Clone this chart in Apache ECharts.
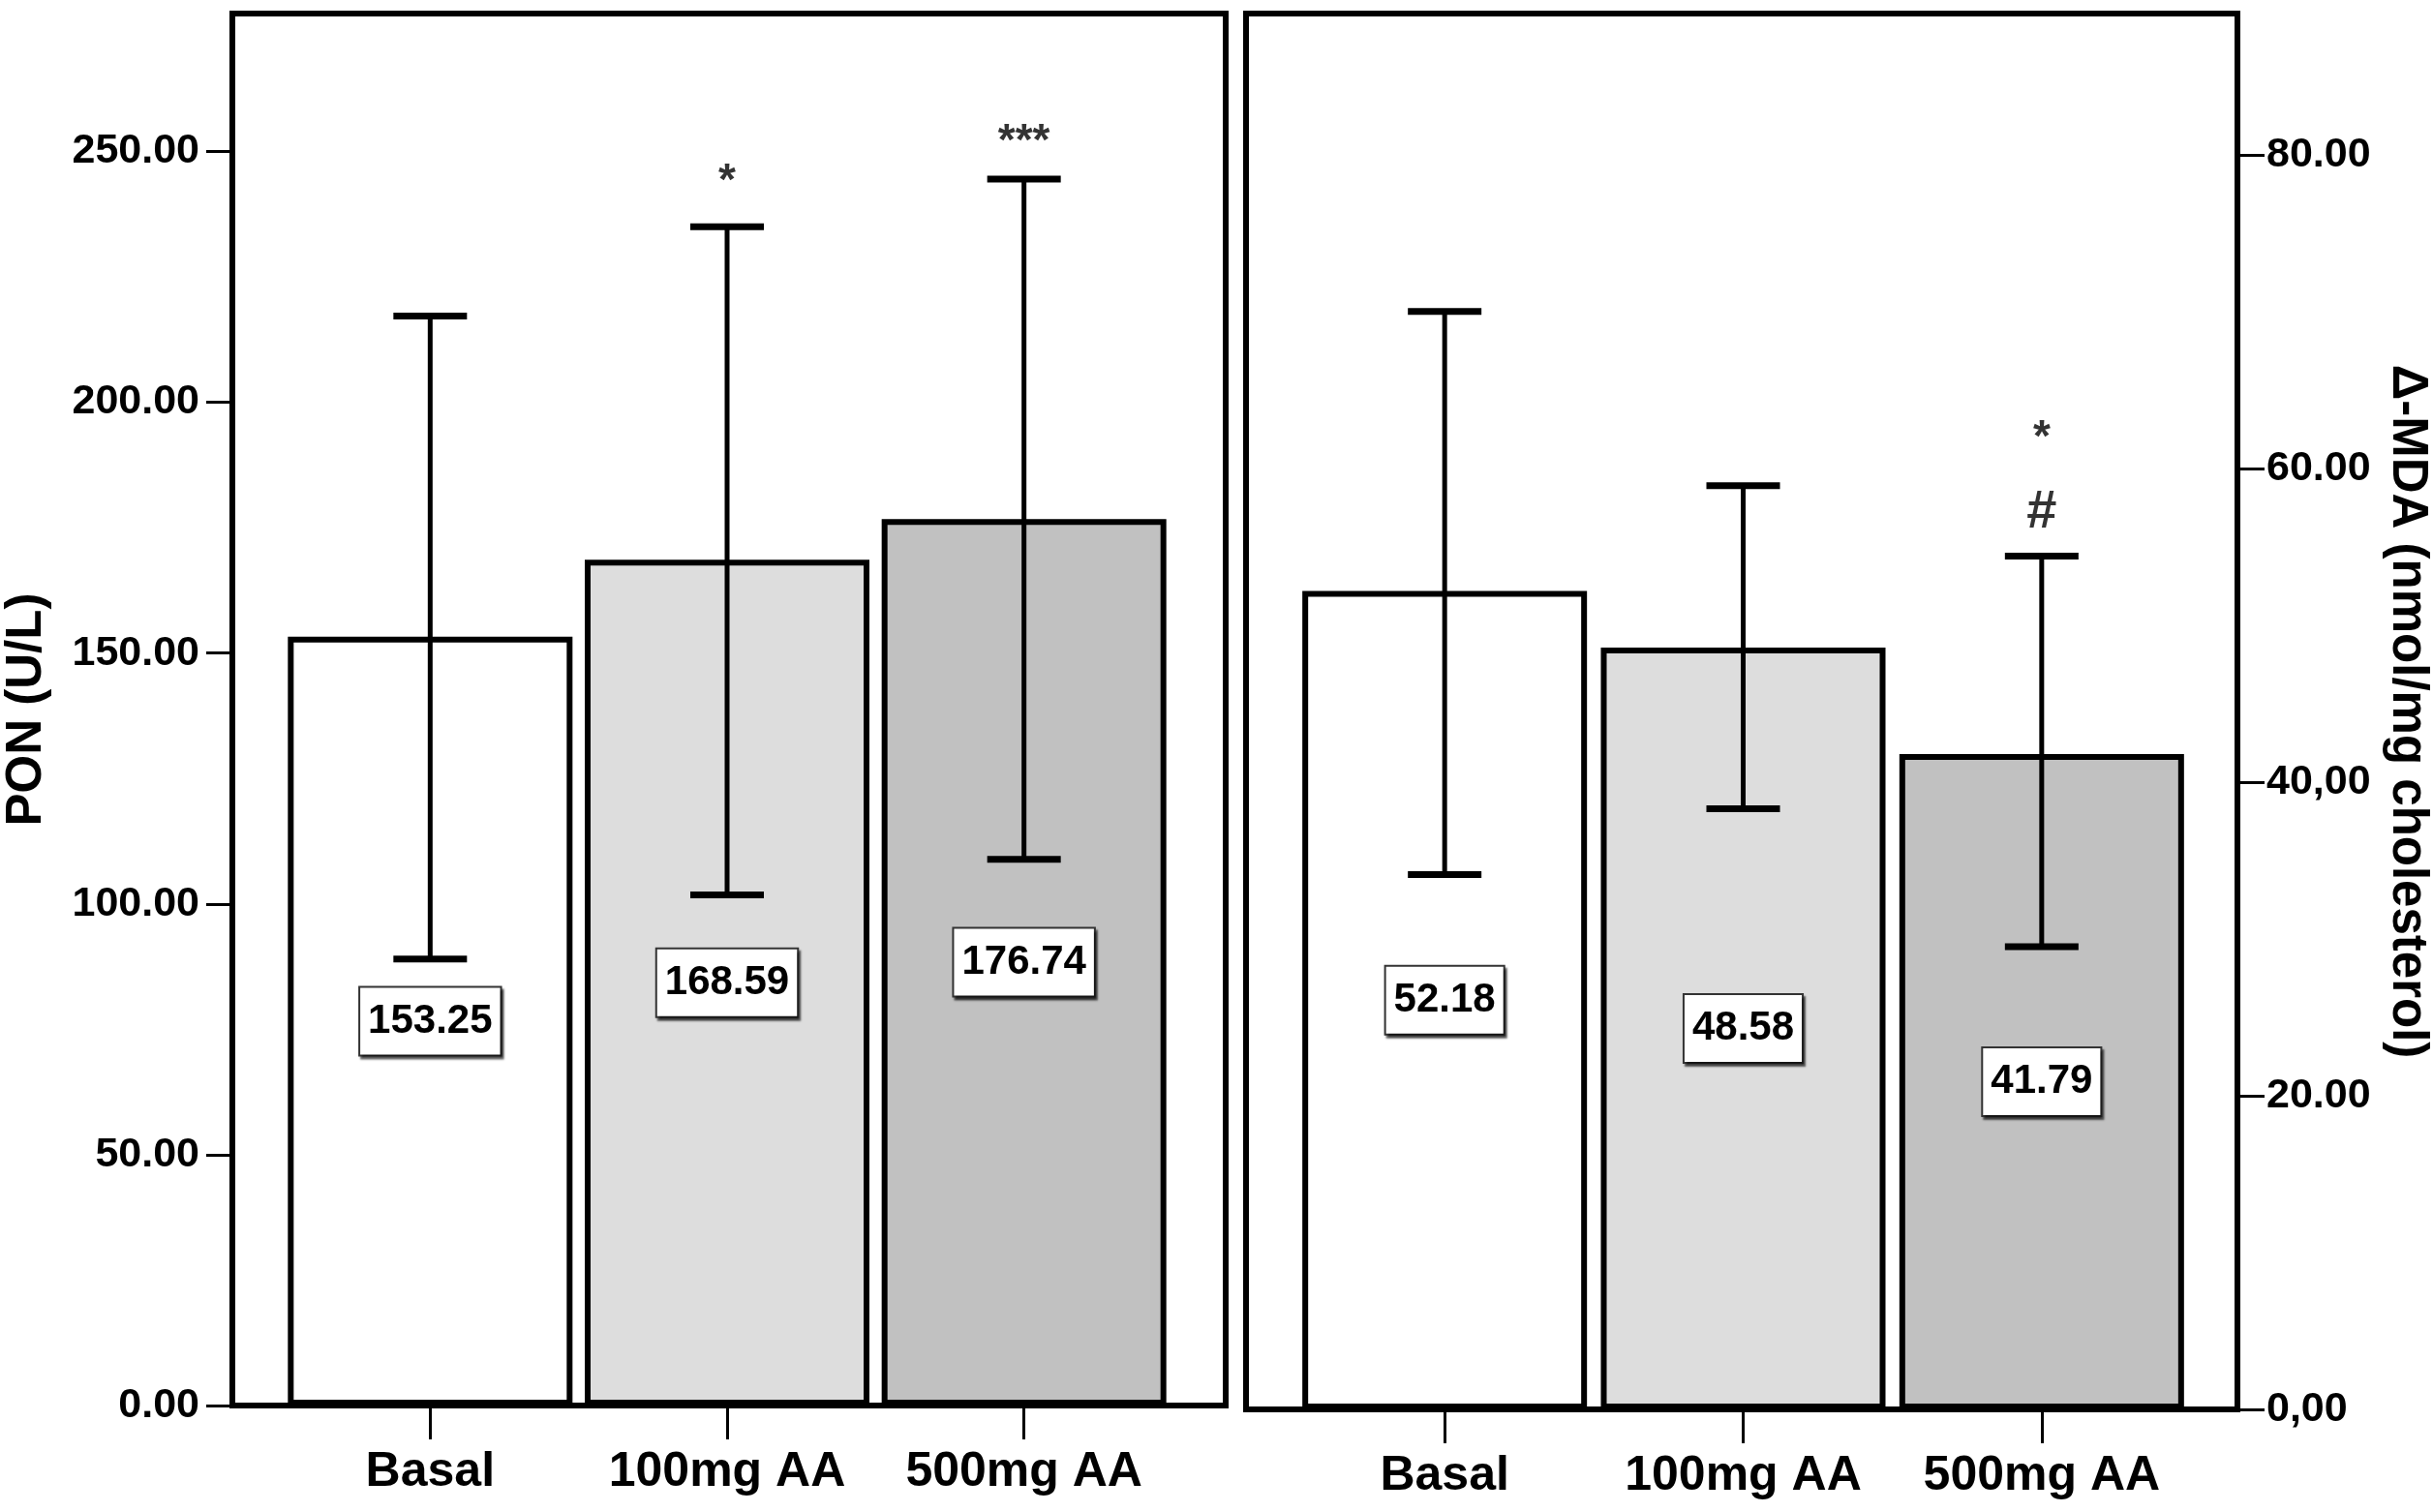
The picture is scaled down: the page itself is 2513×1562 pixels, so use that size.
<!DOCTYPE html>
<html>
<head>
<meta charset="utf-8">
<script src="https://cdn.jsdelivr.net/npm/echarts@6/dist/echarts.min.js"></script>
<style>
html,body{margin:0;padding:0;background:#fff;}
#chart{width:2513px;height:1562px;}
</style>
</head>
<body>
<div id="chart"></div>
<script>
// ---- data ----
const categories = ['Basal', '100mg AA', '500mg AA'];

const ponMean  = [153.25, 168.59, 176.74];
const ponUpper = [217.2, 235.0, 244.5];
const ponLower = [89.0, 101.8, 108.9];
const ponMarkText  = ['*', '***'];
const ponMarkCat   = [1, 2];
const ponMarkValue = [243.9, 251.8];
const ponTicks = [0, 50, 100, 150, 200, 250];
const ponTickLabels = ['0.00', '50.00', '100.00', '150.00', '200.00', '250.00'];

const mdaMean  = [52.18, 48.58, 41.79];
const mdaUpper = [70.0, 58.9, 54.4];
const mdaLower = [34.1, 38.3, 29.5];
const mdaMarkText  = ['*', '#'];
const mdaMarkCat   = [2, 2];
const mdaMarkValue = [61.9, 57.2];
const mdaTicks = [0, 20, 40, 60, 80];
const mdaTickLabels = ['0,00', '20.00', '40,00', '60.00', '80.00'];

// ---- styles ----
const SANS = "'Liberation Sans',Arial,sans-serif";
const barFill = ['#ffffff', '#dddddd', '#c1c1c1'];

const chart = echarts.init(document.getElementById('chart'), null, {renderer: 'canvas'});

function errorBarSeries(xi, yi, lower, upper) {
  return {
    type: 'custom',
    xAxisIndex: xi, yAxisIndex: yi, z: 5,
    data: lower.map((l, i) => [i, l, upper[i]]),
    renderItem: function (params, api) {
      const x = api.value(0);
      const pLo = api.coord([x, api.value(1)]);
      const pHi = api.coord([x, api.value(2)]);
      const hw = 38;
      const st = {stroke: '#000', lineWidth: 5};
      const cap = {stroke: '#000', lineWidth: 7};
      return {
        type: 'group',
        children: [
          {type: 'line', shape: {x1: pLo[0], y1: pLo[1], x2: pHi[0], y2: pHi[1]}, style: st},
          {type: 'line', shape: {x1: pHi[0] - hw, y1: pHi[1], x2: pHi[0] + hw, y2: pHi[1]}, style: cap},
          {type: 'line', shape: {x1: pLo[0] - hw, y1: pLo[1], x2: pLo[0] + hw, y2: pLo[1]}, style: cap}
        ]
      };
    }
  };
}

function barSeries(xi, yi, values) {
  return {
    type: 'bar',
    xAxisIndex: xi, yAxisIndex: yi, z: 3,
    barWidth: 294,
    data: values.map((v, i) => ({value: v, itemStyle: {color: barFill[i]}})),
    itemStyle: {borderColor: '#000', borderWidth: 6},
    label: {
      show: true, position: 'inside',
      formatter: p => Number(p.value).toFixed(2),
      fontFamily: SANS, fontWeight: 'bold', fontSize: 42, lineHeight: 46, color: '#000',
      backgroundColor: '#fff', borderColor: '#333', borderWidth: 2,
      padding: [12, 8, 11, 8],
      shadowColor: 'rgba(0,0,0,0.6)', shadowOffsetX: 2, shadowOffsetY: 3, shadowBlur: 2
    },
    emphasis: {disabled: true}
  };
}

function markSeries(xi, yi, cats, vals, texts) {
  return {
    type: 'scatter',
    xAxisIndex: xi, yAxisIndex: yi, z: 6,
    symbolSize: 1,
    itemStyle: {color: 'rgba(0,0,0,0)'},
    data: cats.map((c, i) => ({
      value: [c, vals[i]],
      label: {
        show: true, position: 'inside', formatter: texts[i],
        fontFamily: SANS,
        fontWeight: 'bold', fontSize: texts[i] === '#' ? 56 : 46, color: '#000'
      }
    })),
    emphasis: {disabled: true}
  };
}

const catAxis = (gi) => ({
  type: 'category', gridIndex: gi, data: categories,
  axisLine: {show: false, onZero: false},
  axisTick: {show: true, alignWithLabel: true, length: 35, lineStyle: {color: '#000', width: 3}},
  axisLabel: {interval: 0, hideOverlap: false, fontFamily: SANS, fontWeight: 'bold', fontSize: 50, color: '#000', margin: 44},
  splitLine: {show: false}
});

const hiddenX = (gi) => ({type: 'value', gridIndex: gi, show: false, min: 0, max: 1});
const hiddenY = (gi, max) => ({type: 'value', gridIndex: gi, show: false, min: 0, max: max});

const option = {
  backgroundColor: '#fff',
  animation: false,
  grid: [
    {left: 240, top: 14, width: 1026, height: 1438, show: true, borderColor: '#000', borderWidth: 6, backgroundColor: 'rgba(0,0,0,0)'},
    {left: 291, top: 14, width: 920, height: 1438},
    {left: 1287, top: 14, width: 1026, height: 1442, show: true, borderColor: '#000', borderWidth: 6, backgroundColor: 'rgba(0,0,0,0)'},
    {left: 1338, top: 14, width: 925, height: 1442}
  ],
  xAxis: [hiddenX(0), catAxis(1), hiddenX(2), catAxis(3)],
  yAxis: [
    {
      type: 'value', gridIndex: 0, position: 'left', min: 0, max: 277.5,
      axisLine: {show: false, onZero: false},
      axisTick: {show: true, length: 27, customValues: ponTicks, lineStyle: {color: '#000', width: 3}},
      axisLabel: {
        customValues: ponTicks, margin: 34,
        formatter: v => ponTickLabels[ponTicks.indexOf(v)],
        fontFamily: SANS, fontWeight: 'bold', fontSize: 43, color: '#000'
      },
      splitLine: {show: false},
      name: 'PON (U/L)', nameLocation: 'middle', nameRotate: 90, nameGap: 187,
      nameTextStyle: {fontFamily: SANS, fontWeight: 'bold', fontSize: 51, color: '#000'}
    },
    hiddenY(1, 277.5),
    {
      type: 'value', gridIndex: 2, position: 'right', min: 0, max: 89.0,
      axisLine: {show: false, onZero: false},
      axisTick: {show: true, length: 28, customValues: mdaTicks, lineStyle: {color: '#000', width: 3}},
      axisLabel: {
        customValues: mdaTicks, margin: 30,
        formatter: v => mdaTickLabels[mdaTicks.indexOf(v)],
        fontFamily: SANS, fontWeight: 'bold', fontSize: 43, color: '#000'
      },
      splitLine: {show: false},
      name: 'Δ-MDA (nmol/mg cholesterol)', nameLocation: 'middle', nameRotate: -90, nameGap: 150,
      nameTextStyle: {fontFamily: SANS, fontWeight: 'bold', fontSize: 51, color: '#000'}
    },
    hiddenY(3, 89.0)
  ],
  series: [
    barSeries(1, 1, ponMean),
    errorBarSeries(1, 1, ponLower, ponUpper),
    markSeries(1, 1, ponMarkCat, ponMarkValue, ponMarkText),
    barSeries(3, 3, mdaMean),
    errorBarSeries(3, 3, mdaLower, mdaUpper),
    markSeries(3, 3, mdaMarkCat, mdaMarkValue, mdaMarkText)
  ]
};

chart.setOption(option);
</script>
</body>
</html>
